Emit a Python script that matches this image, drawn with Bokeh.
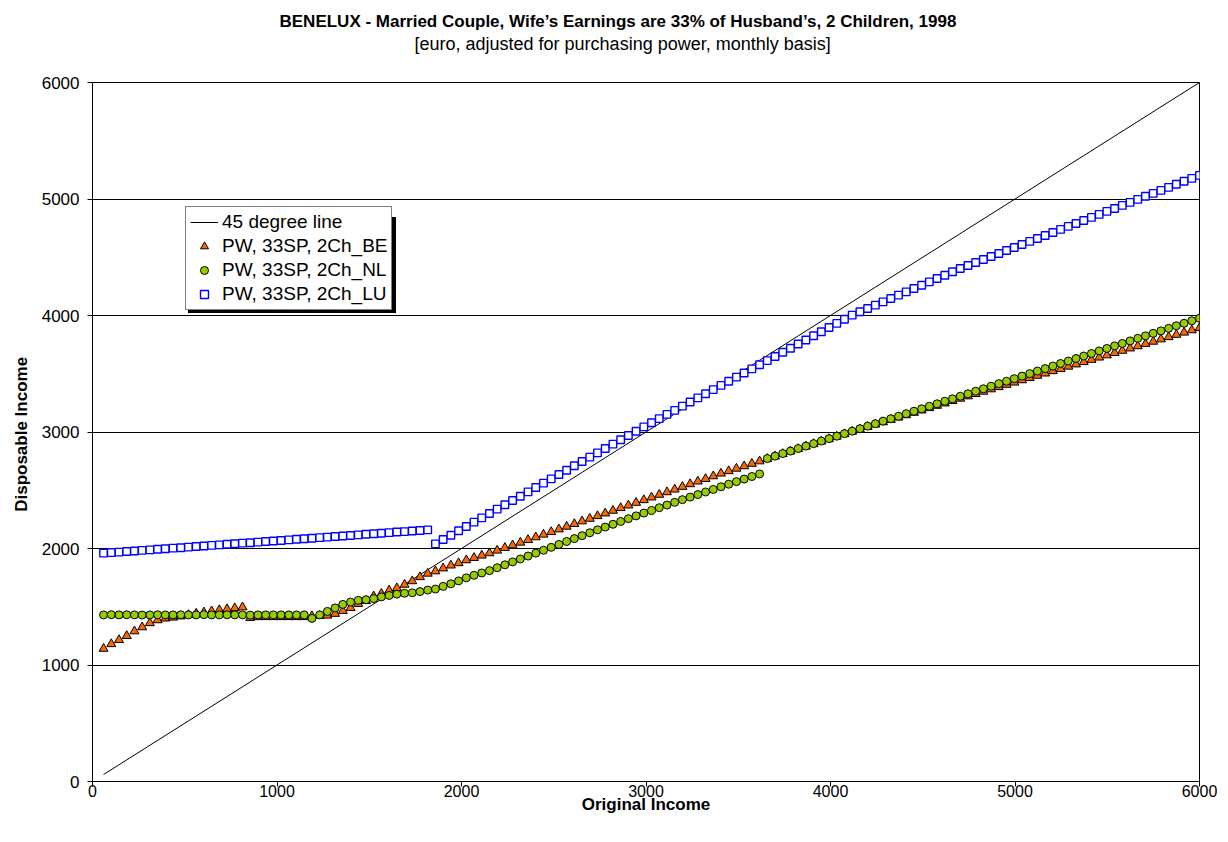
from bokeh.plotting import figure
from bokeh.models import Range1d, FixedTicker, Title, Legend, LegendItem, ColumnDataSource
from bokeh.embed import file_html
from bokeh.resources import INLINE
import numpy as np

# ---------------- data ----------------
income = np.linspace(60, 6000, 143)

be = [1140, 1180, 1215, 1250, 1290, 1325, 1360, 1385, 1400, 1408,
      1418, 1430, 1442, 1452, 1462, 1472, 1480, 1488, 1496, 1405,
      1412, 1412, 1412, 1412, 1412, 1412, 1412, 1420, 1422, 1425,
      1440, 1465, 1490, 1525, 1550, 1590, 1612, 1640, 1660, 1690,
      1720, 1755, 1785, 1805, 1830, 1855, 1875, 1900, 1920, 1940,
      1960, 1983, 2006, 2028, 2051, 2074, 2097, 2120, 2142, 2165,
      2188, 2211, 2234, 2256, 2279, 2302, 2325, 2348, 2370, 2393,
      2416, 2439, 2462, 2484, 2507, 2530, 2553, 2576, 2598, 2621,
      2644, 2665, 2686, 2707, 2728, 2749, 2770, 2791, 2812, 2834,
      2855, 2876, 2897, 2919, 2940, 2961, 2982, 3004, 3024, 3044,
      3065, 3085, 3105, 3125, 3145, 3166, 3186, 3206, 3226, 3246,
      3267, 3287, 3307, 3327, 3347, 3367, 3386, 3406, 3425, 3445,
      3464, 3484, 3503, 3523, 3542, 3562, 3581, 3601, 3620, 3640,
      3659, 3679, 3698, 3718, 3737, 3757, 3776, 3796, 3815, 3835,
      3854, 3874, 3893]

nl = [1430, 1432, 1430, 1431, 1430, 1429, 1430, 1431, 1430, 1430,
      1431, 1430, 1430, 1432, 1430, 1430, 1431, 1430, 1430, 1428,
      1430, 1430, 1430, 1430, 1430, 1430, 1430, 1400, 1430, 1460,
      1490, 1520, 1540, 1555, 1560, 1570, 1585, 1597, 1608, 1616,
      1620, 1630, 1643, 1652, 1675, 1697, 1722, 1748, 1770, 1790,
      1810, 1835, 1860, 1885, 1910, 1935, 1960, 1985, 2010, 2035,
      2060, 2085, 2110, 2135, 2160, 2184, 2208, 2232, 2256, 2280,
      2304, 2327, 2350, 2373, 2396, 2419, 2441, 2463, 2485, 2507,
      2530, 2552, 2574, 2596, 2618, 2640, 2772, 2793, 2815, 2836,
      2858, 2879, 2900, 2922, 2943, 2964, 2986, 3007, 3028, 3050,
      3071, 3093, 3114, 3135, 3157, 3178, 3199, 3221, 3242, 3264,
      3285, 3307, 3328, 3350, 3371, 3393, 3415, 3436, 3458, 3480,
      3501, 3523, 3544, 3566, 3588, 3609, 3631, 3652, 3674, 3696,
      3717, 3739, 3760, 3782, 3804, 3825, 3847, 3868, 3890, 3912,
      3933, 3955, 3976]

lu = [1960, 1965, 1969, 1974, 1979, 1984, 1988, 1993, 1998, 2003,
      2007, 2012, 2017, 2022, 2027, 2031, 2036, 2041, 2046, 2050,
      2055, 2060, 2065, 2069, 2074, 2079, 2084, 2088, 2093, 2098,
      2103, 2107, 2112, 2117, 2122, 2126, 2131, 2136, 2141, 2145,
      2150, 2155, 2160, 2040, 2077, 2114, 2152, 2189, 2226, 2263,
      2300, 2338, 2375, 2412, 2449, 2486, 2524, 2561, 2598, 2635,
      2672, 2710, 2747, 2784, 2821, 2858, 2896, 2933, 2970, 3007,
      3044, 3080, 3115, 3151, 3186, 3222, 3257, 3293, 3328, 3364,
      3400, 3435, 3471, 3506, 3542, 3577, 3613, 3648, 3684, 3719,
      3755, 3790, 3826, 3861, 3897, 3932, 3968, 4003, 4032, 4060,
      4089, 4117, 4146, 4175, 4203, 4232, 4260, 4289, 4318, 4346,
      4375, 4403, 4429, 4455, 4481, 4507, 4532, 4558, 4584, 4610,
      4636, 4661, 4687, 4713, 4739, 4765, 4790, 4816, 4842, 4868,
      4894, 4919, 4945, 4971, 4997, 5023, 5048, 5074, 5100, 5126,
      5152, 5177, 5203]

line45_x = [float(income[0]), float(income[-1])]
line45_y = [float(income[0]), float(income[-1])]

ticks = [0, 1000, 2000, 3000, 4000, 5000, 6000]

title_text = "BENELUX - Married Couple, Wife\u2019s Earnings are 33% of Husband\u2019s, 2 Children, 1998"
subtitle_text = "[euro, adjusted for purchasing power, monthly basis]"
x_label = "Original Income"
y_label = "Disposable  Income"
names = ["45 degree line", "PW, 33SP, 2Ch_BE", "PW, 33SP, 2Ch_NL", "PW, 33SP, 2Ch_LU"]

FONT = "Liberation Sans"

# ---------------- figure ----------------
p = figure(frame_width=1107, frame_height=699,
           min_border_left=92, min_border_right=18, min_border_top=82, min_border_bottom=48,
           x_range=Range1d(0, 6000), y_range=Range1d(0, 6000),
           output_backend="svg", toolbar_location=None,
           background_fill_color="white", border_fill_color="white")

p.outline_line_color = "black"
p.outline_line_width = 1

spacer = Title(text=" ", text_font_size="2px", standoff=24)
sub = Title(text=subtitle_text, align="left", offset=322, standoff=2,
            text_font=FONT, text_font_size="18px", text_font_style="normal", text_color="black")
main = Title(text=title_text, align="left", offset=187, standoff=0,
             text_font=FONT, text_font_size="17px", text_font_style="bold", text_color="black")
p.add_layout(spacer, "above")
p.add_layout(sub, "above")
p.add_layout(main, "above")

for ax in (p.xaxis[0], p.yaxis[0]):
    ax.ticker = FixedTicker(ticks=ticks)
    ax.minor_tick_line_color = None
    ax.major_tick_in = 0
    ax.major_tick_out = 5
    ax.axis_line_color = "black"
    ax.major_tick_line_color = "black"
    ax.major_label_text_font = FONT
    ax.major_label_text_font_size = "17px"
    ax.major_label_text_color = "black"
    ax.axis_label_text_font = FONT
    ax.axis_label_text_font_size = "17px"
    ax.axis_label_text_font_style = "bold"
    ax.axis_label_text_color = "black"

p.xaxis.major_label_text_font_size = "16px"
p.xaxis.axis_label = x_label
p.yaxis.axis_label = y_label
p.xaxis.major_label_standoff = -2
p.yaxis.major_label_standoff = 8
p.xaxis.axis_label_standoff = -5
p.yaxis.axis_label_standoff = 8

p.xgrid.grid_line_color = None
p.ygrid.grid_line_color = "black"
p.ygrid.grid_line_width = 1
p.ygrid.ticker = FixedTicker(ticks=ticks)

src = ColumnDataSource(dict(x=income, be=be, nl=nl, lu=lu))

r_line = p.line(line45_x, line45_y, line_color="black", line_width=1)
r_be = p.scatter("x", "be", source=src, marker="triangle", size=9,
                 fill_color="#FF6600", line_color="black", line_width=1)
r_nl = p.scatter("x", "nl", source=src, marker="circle", size=8,
                 fill_color="#99CC00", line_color="black", line_width=1)
r_lu = p.scatter("x", "lu", source=src, marker="square", size=7.5,
                 fill_color="white", line_color="#0000FF", line_width=1.4)

legend_style = dict(label_text_font=FONT, label_text_font_size="19px",
                    border_line_color="black", border_line_width=1,
                    background_fill_alpha=1,
                    glyph_width=28, glyph_height=20, label_height=20,
                    spacing=2, padding=4, margin=0, label_standoff=4)

# drop shadow behind the legend box (same size, offset 3px right / 3px down)
shadow = Legend(items=[LegendItem(label=" ", renderers=[r]) for r in (r_line, r_be, r_nl, r_lu)],
                location=(96, 468), background_fill_color="black",
                label_text_color="black", label_width=166, **legend_style)
p.add_layout(shadow, "center")

legend = Legend(items=[LegendItem(label=names[0], renderers=[r_line]),
                       LegendItem(label=names[1], renderers=[r_be]),
                       LegendItem(label=names[2], renderers=[r_nl]),
                       LegendItem(label=names[3], renderers=[r_lu])],
                location=(93, 471), background_fill_color="white",
                label_text_color="black", **legend_style)
p.add_layout(legend, "center")

open("out.html", "w").write(file_html(p, INLINE))
